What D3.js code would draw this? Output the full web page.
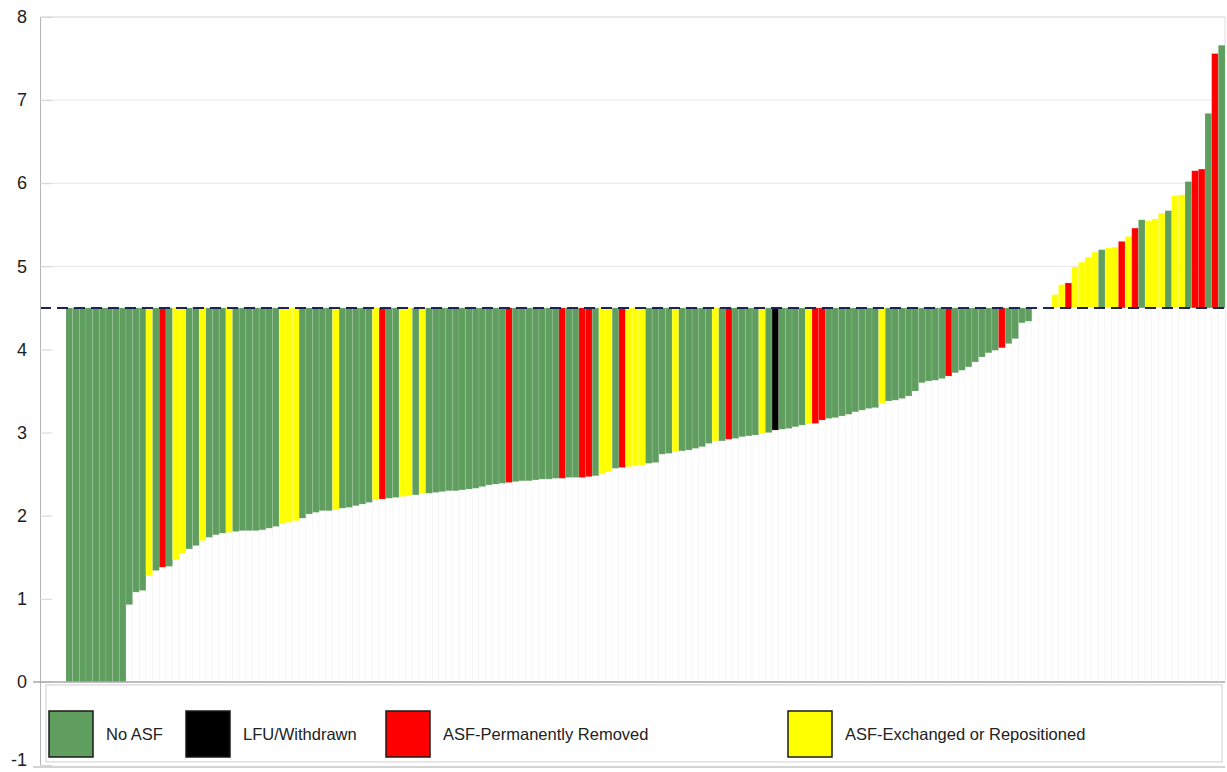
<!DOCTYPE html>
<html>
<head>
<meta charset="utf-8">
<script src="https://cdn.jsdelivr.net/npm/d3@7"></script>
<style>
  body { margin: 0; background: #fff; }
  svg { font-family: "Liberation Sans", Arial, sans-serif; }
</style>
</head>
<body>
<div id="chart"></div>
<script>
// status codes per bar: N = No ASF, L = LFU/Withdrawn, R = ASF-Permanently Removed, Y = ASF-Exchanged or Repositioned
const statusKeys = ["N", "L", "R", "Y"];
const statusLabels = ["No ASF", "LFU/Withdrawn", "ASF-Permanently Removed", "ASF-Exchanged or Repositioned"];
const statusColors = ["#5f9e5f", "#000000", "#ff0000", "#ffff00"];

const barStatus = ("NNNNNNNNN N NN Y N R N YY NN Y NNN Y " +
    "NNNNNNN YYY " +
    "NNNNN Y NNNNN Y R NN YY N Y " +
    "NNNNNNNNNNNN R " +
    "NNNNNNN R NN RR N YY N R YYY " +
    "NN NN Y NNNNN Y N R NNNN Y N L " +
    "NNNN Y RR NNNNNNNN Y " +
    "NNNNNNNNN R NNNNNNN R " +
    "NNNN NNN " +
    "YYRYYYYNYYRYRNYYYNYYNRRNRN").replace(/ /g, "").split("");

const barValues = [
    0, 0, 0, 0, 0, 0, 0, 0, 0,
    0.93, 1.08, 1.10, 1.28, 1.34, 1.38, 1.39, 1.47, 1.55, 1.60, 1.64, 1.70, 1.74, 1.77, 1.79, 1.80,
    1.81, 1.82, 1.82, 1.82, 1.83, 1.85, 1.87, 1.90, 1.92, 1.94,
    1.97, 2.02, 2.04, 2.06, 2.06, 2.07, 2.09, 2.10, 2.12, 2.14, 2.16, 2.19, 2.20, 2.21, 2.22, 2.23, 2.24, 2.25, 2.27,
    2.27, 2.28, 2.29, 2.30, 2.30, 2.31, 2.32, 2.33, 2.35, 2.37, 2.38, 2.39, 2.40,
    2.41, 2.42, 2.42, 2.43, 2.44, 2.44, 2.45, 2.45, 2.46, 2.46, 2.46, 2.47, 2.48, 2.50, 2.53, 2.57, 2.58, 2.59, 2.60, 2.61,
    2.63, 2.64, 2.74, 2.75, 2.77, 2.78, 2.79, 2.81, 2.83, 2.87, 2.90, 2.90, 2.92, 2.93, 2.95, 2.96, 2.97, 2.99, 3.00, 3.03,
    3.04, 3.05, 3.07, 3.09, 3.11, 3.11, 3.15, 3.17, 3.18, 3.20, 3.22, 3.25, 3.27, 3.29, 3.30, 3.35,
    3.38, 3.39, 3.41, 3.44, 3.50, 3.60, 3.62, 3.63, 3.65, 3.68, 3.72, 3.75, 3.79, 3.85, 3.91, 3.96, 3.99, 4.02,
    4.07, 4.13, 4.32, 4.34, 4.5, 4.5, 4.5,
    4.66, 4.78, 4.80, 4.99, 5.05, 5.11, 5.17, 5.20, 5.22, 5.23, 5.30, 5.36, 5.46, 5.56, 5.55, 5.57, 5.64, 5.67,
    5.85, 5.86, 6.02, 6.15, 6.17, 6.84, 7.56, 7.66
];

const baseline = 4.5;
const yTicks = [-1, 0, 1, 2, 3, 4, 5, 6, 7, 8];
const gridTicks = [5, 6, 7, 8];

const width = 1227, height = 772;
const plotLeft = 40, plotRight = 1225;

const svg = d3.select("#chart").append("svg")
    .attr("width", width)
    .attr("height", height);

const x = d3.scaleBand()
    .domain(d3.range(barValues.length))
    .range([66, plotRight])
    .padding(0);

const y = d3.scaleLinear()
    .domain([-1, 8])
    .range([765, 17]);

const color = d3.scaleOrdinal().domain(statusKeys).range(statusColors);

// gridlines above the baseline
svg.append("g").selectAll("line")
    .data(gridTicks)
    .join("line")
    .attr("x1", plotLeft).attr("x2", plotRight)
    .attr("y1", d => y(d)).attr("y2", d => y(d))
    .attr("stroke", d => d === 8 ? "#d0d0d0" : "#e6e6e6")
    .attr("stroke-width", 1);

// right border
svg.append("line")
    .attr("x1", plotRight).attr("x2", plotRight)
    .attr("y1", y(8)).attr("y2", y(0))
    .attr("stroke", "#dcdcdc");

const bars = barValues.map((v, i) => ({ i, v, s: barStatus[i] }));

// white base bars from 0 up to the lower end of each colored bar
svg.append("g").selectAll("rect")
    .data(bars)
    .join("rect")
    .attr("x", d => x(d.i))
    .attr("width", x.bandwidth())
    .attr("y", d => y(Math.min(d.v, baseline)))
    .attr("height", d => y(0) - y(Math.min(d.v, baseline)))
    .attr("fill", "#fff")
    .attr("stroke", "#f4f4f4")
    .attr("stroke-width", 0.7);

// colored bars between value and baseline
svg.append("g").selectAll("rect")
    .data(bars.filter(d => d.v !== baseline))
    .join("rect")
    .attr("x", d => x(d.i))
    .attr("width", x.bandwidth())
    .attr("y", d => y(Math.max(d.v, baseline)))
    .attr("height", d => Math.abs(y(d.v) - y(baseline)))
    .attr("fill", d => color(d.s))
    .attr("stroke", "rgba(255,255,255,0.14)")
    .attr("stroke-width", 0.8);

// dashed baseline
svg.append("line")
    .attr("x1", plotLeft).attr("x2", plotRight)
    .attr("y1", y(baseline)).attr("y2", y(baseline))
    .attr("stroke", "#1c2456")
    .attr("stroke-width", 2)
    .attr("stroke-dasharray", "11,6");

// y axis
const yAxis = svg.append("g")
    .attr("transform", `translate(${plotLeft},0)`)
    .call(d3.axisLeft(y).tickValues(yTicks).tickFormat(d => String(d))
        .tickSize(-12).tickSizeOuter(0).tickPadding(13));
yAxis.select(".domain").attr("stroke", "#b4b4b4");
yAxis.selectAll(".tick line").attr("stroke", "#d4d4d4");
yAxis.selectAll(".tick text")
    .attr("fill", "#1e1e1e")
    .attr("dy", d => d === -1 ? "0.05em" : "0.32em")
    .style("font-size", "18px");

// zero line and bottom line
svg.append("line")
    .attr("x1", 33).attr("x2", plotRight)
    .attr("y1", y(0)).attr("y2", y(0))
    .attr("stroke", "#a8a8a8").attr("stroke-width", 1.5);
svg.append("line")
    .attr("x1", 33).attr("x2", plotRight)
    .attr("y1", y(-1) + 2).attr("y2", y(-1) + 2)
    .attr("stroke", "#c4c4c4").attr("stroke-width", 1.5);

// legend
svg.append("rect")
    .attr("x", 46).attr("y", y(0) + 3)
    .attr("width", 1176).attr("height", 77)
    .attr("fill", "#fff")
    .attr("stroke", "#cfcfcf");

const legendX = [49, 186, 386, 788];
const legend = svg.append("g");
statusKeys.forEach((k, i) => {
    const g = legend.append("g").attr("transform", `translate(${legendX[i]}, 711)`);
    g.append("rect")
        .attr("width", 44).attr("height", 46)
        .attr("fill", statusColors[i])
        .attr("stroke", "#1a1a1a").attr("stroke-width", 1.5);
    g.append("text")
        .attr("x", 57).attr("y", 29)
        .attr("fill", "#222")
        .style("font-size", "16.5px")
        .text(statusLabels[i]);
});
</script>
</body>
</html>
